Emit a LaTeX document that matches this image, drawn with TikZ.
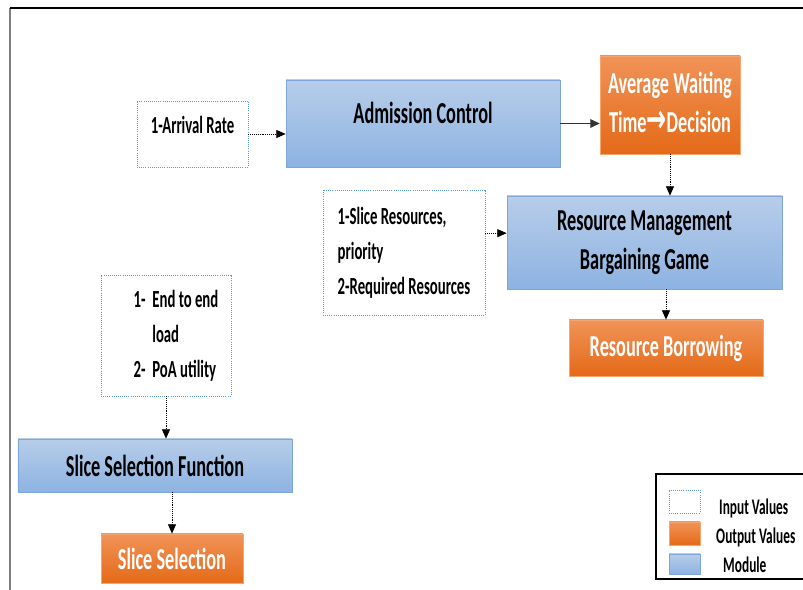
\documentclass[tikz,border=0pt]{standalone}
\usepackage{fontspec}
\setmainfont{Carlito}
\newfontfamily\arrowfont{DejaVu Sans}
\usepackage{graphicx}
\usetikzlibrary{positioning, calc, arrows.meta}

\definecolor{inblue}{HTML}{5B9BD5}
\definecolor{modtop}{HTML}{B7CDE9}
\definecolor{modbot}{HTML}{8DB3E2}
\definecolor{modedge}{HTML}{7EA6D9}
\definecolor{outtop}{HTML}{F19358}
\definecolor{outbot}{HTML}{E46A17}
\definecolor{outedge}{HTML}{F5A56E}
\definecolor{framegray}{HTML}{7F7F7F}

% the figure is squeezed sideways, so every label is too
\newcommand\sqz[1]{\scalebox{0.6}[1]{#1}}
\newcommand\sqzl[2][c]{\scalebox{0.6}[1]{\begin{tabular}{@{}#1@{}}#2\end{tabular}}}

\begin{document}
\begin{tikzpicture}[
  inbox/.style  = {draw=inblue, densely dotted, line width=0.8pt, fill=white,
                   inner sep=0pt},
  modbox/.style = {draw=modedge, line width=0.6pt, top color=modtop,
                   bottom color=modbot, inner sep=0pt},
  outbox/.style = {draw=outedge, line width=0.6pt, top color=outtop,
                   bottom color=outbot, text=white, inner sep=0pt},
  lbig/.style   = {font=\fontsize{26}{33}\selectfont\bfseries},
  lmid/.style   = {font=\fontsize{21}{30}\selectfont\bfseries},
  lsmall/.style = {font=\fontsize{19}{21}\selectfont\bfseries},
  high/.style   = {text height=#1, text depth=#1},
  arr/.style    = {-{Triangle[length=2.8mm, width=2.4mm]}, densely dotted,
                   line width=0.6pt},
  flow/.style   = {-{Triangle[length=2.8mm, width=2.6mm]}, line width=1.1pt,
                   draw=black!80},
]
\useasboundingbox (0,0) rectangle (24.09,17.7);

% ---- page frame -------------------------------------------------------------
\draw[framegray, line width=0.9pt] (0.3,0) -- (0.3,17.46);
\draw[line width=1.1pt] (0.3,17.46) -- (24.09,17.46);

% ---- admission control (top) ------------------------------------------------
\node[inbox, lmid, high=0.45cm, minimum width=3.33cm, minimum height=1.98cm]
  (arrival) at (5.775,13.68) {\sqz{1-Arrival Rate}};
\node[modbox, lbig, high=0.6cm, minimum width=8.22cm, minimum height=2.61cm]
  (adm) at (12.69,13.995) {\sqz{Admission Control}};
\node[outbox, lbig, minimum width=4.2cm, minimum height=2.94cm] (wait)
  at (20.1,14.55)
  {\sqzl{Average Waiting\\Time{\arrowfont\bfseries\fontsize{34}{34}\selectfont →}Decision}};

\draw[arr] (arrival.east) -- (arrival.east -| adm.west);
\draw[flow] (adm.east) -- (adm.east -| wait.west);

% ---- resource management (middle) -------------------------------------------
\node[inbox, lmid, minimum width=4.86cm, minimum height=3.75cm] (slres)
  at (12.12,10.125)
  {\sqzl[l]{1-Slice Resources,\\priority\\2-Required Resources}};
\node[modbox, lbig, minimum width=8.25cm, minimum height=2.79cm] (rm)
  at (19.335,10.425) {\sqzl{Resource Management\\Bargaining Game}};
\node[outbox, lbig, minimum width=5.82cm, minimum height=1.68cm] (borrow)
  at (19.98,7.26) {\sqz{Resource Borrowing}};

\draw[arr] (wait.south) -- (wait.south |- rm.north);
\draw[arr] ([yshift=0.58cm]slres.east) -- ([yshift=0.58cm]slres.east -| rm.west);
\draw[arr] (borrow.north |- rm.south) -- (borrow.north);

% ---- slice selection (left) -------------------------------------------------
\node[inbox, lmid, minimum width=3.9cm, minimum height=3.63cm] (load)
  at (4.98,7.635)
  {\hspace{0.6cm}\sqz{\begin{tabular}{@{}l@{\hspace{0.45em}}l@{}}
    1- & End to end\\ & load\\ 2- & PoA utility\end{tabular}}};
\node[modbox, lbig, minimum width=8.22cm, minimum height=1.59cm] (ssf)
  at (4.65,3.735) {\sqz{Slice Selection Function}};
\node[outbox, lbig, minimum width=4.26cm, minimum height=1.47cm] (sel)
  at (5.16,0.945) {\sqz{Slice Selection}};

\draw[arr] (load.south) -- (load.south |- ssf.north);
\draw[arr] (sel.north |- ssf.south) -- (sel.north);

% ---- key (bottom right) -----------------------------------------------------
\draw[line width=1pt] (19.68,0.33) rectangle (24.4,3.48);
\node[inbox, minimum width=0.93cm, minimum height=0.69cm] (keyin)
  at (20.535,2.655) {};
\node[outbox, minimum width=0.93cm, minimum height=0.69cm] (keyout)
  at (20.535,1.695) {};
\node[modbox, minimum width=0.93cm, minimum height=0.6cm] (keymod)
  at (20.535,0.78) {};
\node[lsmall, anchor=west, inner sep=0pt] (keyintxt) at (21.57,2.46)
  {\sqz{Input Values}};
\node[lsmall, anchor=west, inner sep=0pt] (keyouttxt) at (21.48,1.59)
  {\sqz{Output Values}};
\node[lsmall, anchor=west, inner sep=0pt] (keymodtxt) at (21.69,0.75)
  {\sqz{Module}};

\end{tikzpicture}
\end{document}
